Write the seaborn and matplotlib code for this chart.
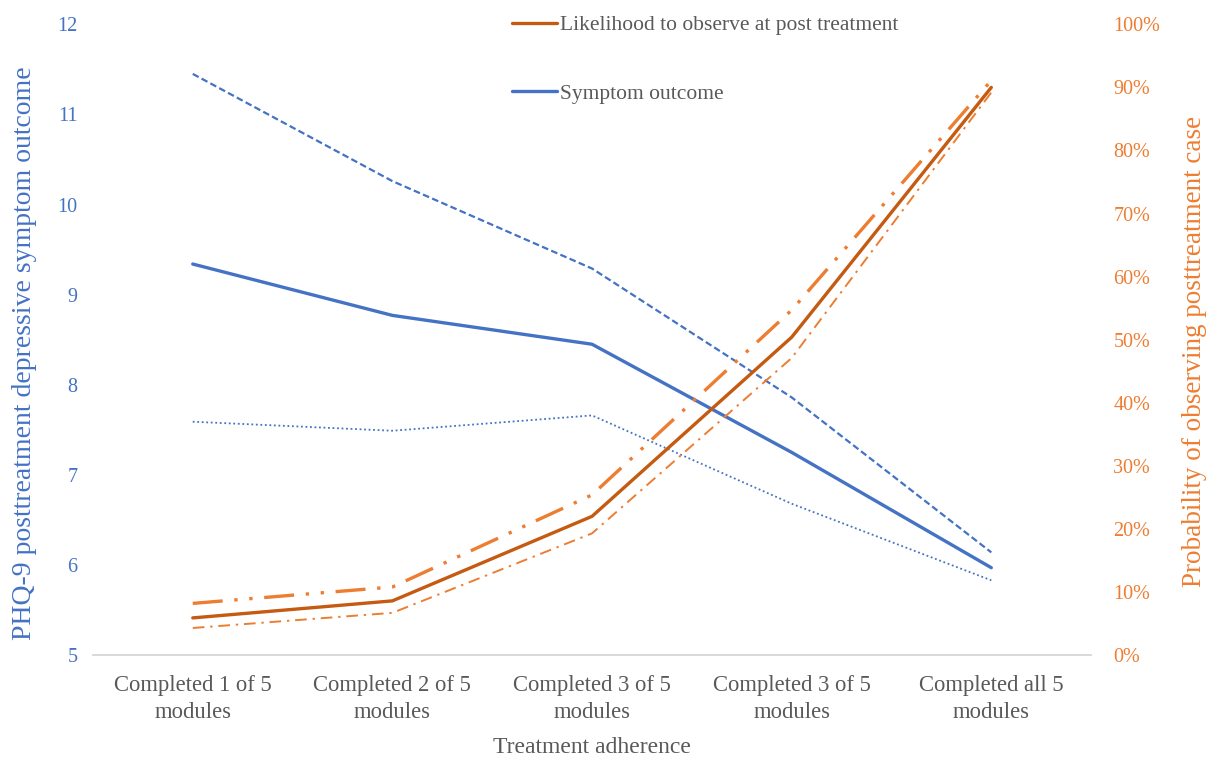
import numpy as np
import pandas as pd
import matplotlib.pyplot as plt
import seaborn as sns

# Data
categories = [
    "Completed 1 of 5\nmodules",
    "Completed 2 of 5\nmodules",
    "Completed 3 of 5\nmodules",
    "Completed 3 of 5\nmodules",
    "Completed all 5\nmodules",
]
symptom = [9.34, 8.77, 8.45, 7.25, 5.97]
symptom_upper = [11.45, 10.26, 9.29, 7.86, 6.14]
symptom_lower = [7.59, 7.49, 7.66, 6.68, 5.83]
likelihood = [0.059, 0.086, 0.220, 0.504, 0.900]
likelihood_upper = [0.082, 0.108, 0.254, 0.547, 0.911]
likelihood_lower = [0.043, 0.067, 0.193, 0.471, 0.892]

pos = np.arange(len(categories))
df = pd.DataFrame({
    "pos": pos,
    "symptom": symptom, "symptom_upper": symptom_upper, "symptom_lower": symptom_lower,
    "likelihood": likelihood, "likelihood_upper": likelihood_upper,
    "likelihood_lower": likelihood_lower,
})

sns.set_style("white")
plt.rcParams["font.family"] = ["Liberation Serif", "DejaVu Serif"]

blue = "#4472C4"
orange_dark = "#C55A11"
orange = "#ED7D31"
grey = "#595959"

fig = plt.figure(figsize=(12.07, 7.6), dpi=100)
ax = fig.add_axes([0.077, 0.138, 0.827, 0.830])
ax2 = ax.twinx()

# Symptom outcome (left axis)
sns.lineplot(data=df, x="pos", y="symptom_upper", ax=ax, color=blue,
             linewidth=1.6, linestyle=(0, (3, 1.5)))
sns.lineplot(data=df, x="pos", y="symptom_lower", ax=ax, color=blue,
             linewidth=1.3, linestyle=(0, (1, 1.5)))
sns.lineplot(data=df, x="pos", y="symptom", ax=ax, color=blue, linewidth=2.4)

# Likelihood (right axis)
sns.lineplot(data=df, x="pos", y="likelihood_upper", ax=ax2, color=orange,
             linewidth=2.4, linestyle=(0, (9, 3.5, 1, 3.5, 1, 3.5)))
sns.lineplot(data=df, x="pos", y="likelihood_lower", ax=ax2, color=orange,
             linewidth=1.4, linestyle=(0, (6, 3, 1.2, 3)))
sns.lineplot(data=df, x="pos", y="likelihood", ax=ax2, color=orange_dark,
             linewidth=2.4)

ax.set_xlim(-0.5, len(categories) - 0.5)
ax.set_ylim(5, 12)
ax2.set_ylim(0, 1)
ax.set_yticks(range(5, 13))
ax2.set_yticks(np.linspace(0, 1, 11))
ax2.set_yticklabels([f"{int(round(v * 100))}%" for v in np.linspace(0, 1, 11)])

ax.set_xticks(pos)
ax.set_xticklabels(categories, color=grey, fontsize=16.3, linespacing=1.4)
ax.set_xticks(np.arange(-0.5, len(categories)), minor=True)
ax.tick_params(axis="x", which="major", length=0, pad=14)
ax.tick_params(axis="x", which="minor", length=6, color="#d9d9d9", width=1)
ax.tick_params(axis="y", length=0, labelcolor=blue, labelsize=14.5, pad=11)
ax2.tick_params(axis="y", length=0, labelcolor=orange, labelsize=14.5, pad=16)

for a in (ax, ax2):
    for s in ("top", "left", "right"):
        a.spines[s].set_visible(False)
    a.spines["bottom"].set_color("#d9d9d9")
    a.spines["bottom"].set_linewidth(1.2)
    a.grid(False)

ax.set_xlabel("Treatment adherence", color=grey, fontsize=17, labelpad=10)
ax.set_ylabel("PHQ-9 posttreatment depressive symptom outcome",
              color=blue, fontsize=20, labelpad=15)
ax2.set_ylabel("Probability of observing posttreatment case",
               color=orange, fontsize=19.5, labelpad=16)
ax.yaxis.label.set_y(0.478)
ax2.yaxis.label.set_y(0.482)

# Legend (two main series only)
handles = [
    plt.Line2D([], [], color=orange_dark, linewidth=2.4),
    plt.Line2D([], [], color=blue, linewidth=2.4),
]
ax2.legend(handles, ["Likelihood to observe at post treatment", "Symptom outcome"],
           loc="upper left", bbox_to_anchor=(0.40, 1.045), frameon=False,
           fontsize=15.5, labelcolor=grey, handlelength=2.1, handletextpad=0.15,
           labelspacing=2.25)

fig.savefig("out.png", dpi=100)
